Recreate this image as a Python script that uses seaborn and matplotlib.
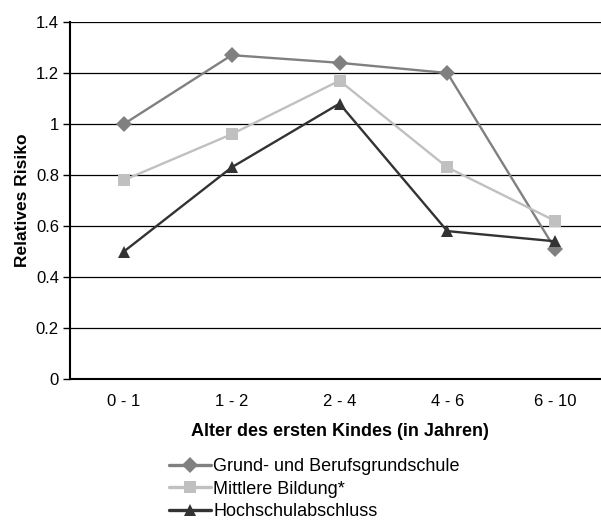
import pandas as pd
import matplotlib
matplotlib.use("Agg")
import matplotlib.pyplot as plt
import seaborn as sns

# =========================================
# DATA
# =========================================
AGE_GROUPS = ["0 - 1", "1 - 2", "2 - 4", "4 - 6", "6 - 10"]
SERIES_NAMES = ["Grund- und Berufsgrundschule", "Mittlere Bildung*", "Hochschulabschluss"]
GRUND = [1.00, 1.27, 1.24, 1.20, 0.51]
MITTLERE = [0.78, 0.96, 1.17, 0.83, 0.62]
HOCHSCHULE = [0.50, 0.83, 1.08, 0.58, 0.54]
Y_TICKS = [0, 0.2, 0.4, 0.6, 0.8, 1, 1.2, 1.4]

COLORS = ["#808080", "#c0c0c0", "#333333"]
MARKERS = ["D", "s", "^"]

# =========================================
# BUILD TABLE
# =========================================
df = pd.DataFrame({
    "age": AGE_GROUPS * 3,
    "pos": list(range(len(AGE_GROUPS))) * 3,
    "risk": GRUND + MITTLERE + HOCHSCHULE,
    "group": [n for n in SERIES_NAMES for _ in AGE_GROUPS],
})

# =========================================
# PLOT
# =========================================
sns.set_style("white")
plt.rcParams["font.family"] = ["Liberation Sans", "DejaVu Sans"]
plt.rcParams["text.color"] = "black"
plt.rcParams["axes.labelcolor"] = "black"
plt.rcParams["xtick.color"] = "black"
plt.rcParams["ytick.color"] = "black"

fig = plt.figure(figsize=(6.01, 5.32), dpi=100)
ax = fig.add_axes([70 / 601, 153 / 532, 539 / 601, 357 / 532])

sns.lineplot(
    data=df, x="pos", y="risk", hue="group", style="group",
    hue_order=SERIES_NAMES, style_order=SERIES_NAMES,
    palette=COLORS, markers=MARKERS, dashes=False,
    markersize=8.5, linewidth=1.7, markeredgewidth=0,
    ax=ax, legend=True,
)

ax.set_xlim(-0.5, len(AGE_GROUPS) - 0.5)
ax.set_ylim(0, 1.4)
ax.set_yticks(Y_TICKS)
ax.set_yticklabels([f"{t:g}" for t in Y_TICKS], fontsize=12)
ax.yaxis.grid(True, color="black", linewidth=0.9)
ax.set_axisbelow(True)

ax.set_xticks(range(len(AGE_GROUPS)))
ax.set_xticklabels(AGE_GROUPS, fontsize=12)
ax.set_xticks([i - 0.5 for i in range(len(AGE_GROUPS) + 1)], minor=True)
ax.tick_params(axis="x", which="major", length=0, pad=11)
ax.tick_params(axis="x", which="minor", length=5, width=1, direction="out", color="black")
ax.tick_params(axis="y", length=5, width=1, direction="out", color="black", left=True, pad=3)

for side in ["top", "right"]:
    ax.spines[side].set_visible(False)
for side in ["left", "bottom"]:
    ax.spines[side].set_color("black")
    ax.spines[side].set_linewidth(1.5)

ax.set_xlabel("Alter des ersten Kindes (in Jahren)", fontsize=13, fontweight="bold", labelpad=10)
ax.set_ylabel("Relatives Risiko", fontsize=12.5, fontweight="bold", labelpad=4)

handles, labels = ax.get_legend_handles_labels()
ax.legend_.remove()
for h in handles:
    h.set_linewidth(2.4)
fig.legend(
    handles, labels, loc="upper left", bbox_to_anchor=(162 / 601, 1 - 451 / 532),
    frameon=False, fontsize=13, handlelength=2.3, handletextpad=0.15,
    labelspacing=0.3, borderaxespad=0,
)

fig.savefig("out.png", dpi=100)
